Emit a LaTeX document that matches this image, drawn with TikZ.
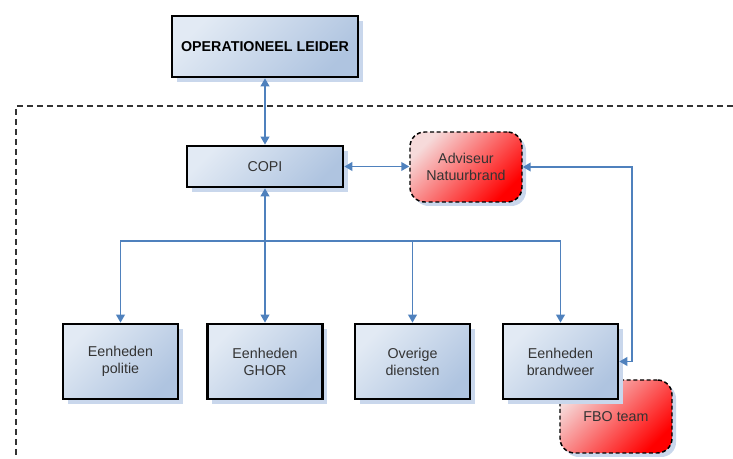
\documentclass[tikz,border=0pt]{standalone}
\usepackage{fontspec}
\setmainfont{Liberation Sans}
\usetikzlibrary{arrows.meta,shadows}
\definecolor{LinkBlue}{HTML}{4F81BD}
\definecolor{BoxLight}{HTML}{E2EAF4}
\definecolor{BoxDark}{HTML}{AFC4E0}
\definecolor{ShadowBlue}{HTML}{C9D7EC}
\definecolor{AlertLight}{HTML}{F6DADA}
\definecolor{AlertRed}{HTML}{FF0000}
\definecolor{TextGrey}{HTML}{333333}

\begin{document}
\begin{tikzpicture}[x=.75pt,y=-.75pt,>={Triangle[length=6pt,width=6.5pt]},
  every node/.style={font=\fontsize{10.7}{12.8}\selectfont,text=TextGrey,align=center,inner sep=0pt},
  unit/.style={draw=black,line width=2pt,top color=BoxLight,bottom color=BoxDark,shading angle=45,
    drop shadow={fill=ShadowBlue,opacity=1,shadow xshift=3.5pt,shadow yshift=-3.5pt}},
  advice/.style={draw=black,line width=1.1pt,dash pattern=on 3pt off 2pt,rounded corners=11pt,
    top color=AlertLight,middle color=AlertRed!78,bottom color=AlertRed,shading angle=45,
    drop shadow={fill=ShadowBlue,opacity=1,shadow xshift=3pt,shadow yshift=-3pt}},
  link/.style={LinkBlue,line width=1.3pt}]
\useasboundingbox (0,0) rectangle (733,459);
\draw[black!80,line width=1pt,dash pattern=on 4.5pt off 3pt] (733,106)--(16,106)--(16,459);
% top of the chain
\node[unit,minimum width=139.5pt,minimum height=45.75pt,font=\fontsize{10.7}{12.8}\selectfont\bfseries,text=black] (leider) at (265,46.5){OPERATIONEEL LEIDER};
\node[unit,minimum width=117pt,minimum height=30.75pt] (copi) at (265,166.5){COPI};
\node[advice,minimum width=84pt,minimum height=52.5pt] (advies) at (466,167){Adviseur\\Natuurbrand};
% units in the field
\node[advice,minimum width=84pt,minimum height=54.75pt] (fbo) at (616,416.5){FBO team};
\node[unit,minimum width=86.25pt,minimum height=56.25pt] (politie) at (120.5,361.5){Eenheden\\politie};
\node[unit,minimum width=86.25pt,minimum height=56.25pt] (ghor) at (265,361.5){Eenheden\\GHOR};
\node[unit,minimum width=86.25pt,minimum height=56.25pt] (overig) at (412.5,361.5){Overige\\diensten};
\node[unit,minimum width=86.25pt,minimum height=56.25pt] (brand) at (560.5,361.5){Eenheden\\brandweer};
% connectors
\draw[link,<->] (leider)--(copi); \draw[link,<->] (copi.east)--(copi.east-|advies.west); \draw[link,<->] (copi)--(ghor);
\coordinate (bus) at (265,241); \coordinate (loop) at (632,300);
\draw[link,->] (bus)-|(politie); \draw[link,->] (bus)-|(overig); \draw[link,->] (bus)-|(brand);
\draw[link,<->] (brand.east)--(brand.east-|loop)|-(advies.east);
\end{tikzpicture}
\end{document}
